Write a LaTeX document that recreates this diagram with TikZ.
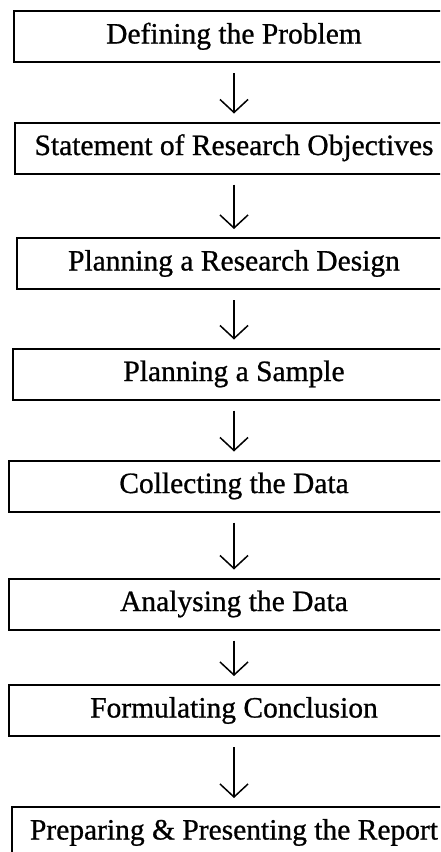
\documentclass[tikz,border=0pt]{standalone}
\usepackage{fontspec}
\setmainfont[BoldFont=Liberation Serif, BoldFeatures={FakeBold=0.8}]{Liberation Serif}
\usetikzlibrary{arrows.meta}
\begin{document}
\begin{tikzpicture}[x=1pt,y=-1pt,
  stepbox/.style={draw, line width=2pt, rectangle, minimum height=51pt, inner sep=0pt,
    font=\fontsize{29.5}{32}\selectfont\bfseries, text height=20pt, text depth=6pt},
  flow/.style={line width=1.5pt, -{Straight Barb[length=13pt,width=28pt,line width=1.5pt]},
    shorten <=10pt, shorten >=8pt}]
\useasboundingbox (0,0) rectangle (440,852);
\fill[white] (0,0) rectangle (440,852);
\clip (0,0) rectangle (440,852);
\node[stepbox, minimum width=440pt] (b1) at (234,36.5) {Defining the Problem};
\node[stepbox, minimum width=438pt] (b2) at (234,148) {Statement of Research Objectives};
\node[stepbox, minimum width=434pt] (b3) at (234,263.5) {Planning a Research Design};
\node[stepbox, minimum width=442pt] (b4) at (234,374) {Planning a Sample};
\node[stepbox, minimum width=450pt] (b5) at (234,486) {Collecting the Data};
\node[stepbox, minimum width=450pt] (b6) at (234,604) {Analysing the Data};
\node[stepbox, minimum width=450pt] (b7) at (234,710.5) {Formulating Conclusion};
\node[stepbox, minimum width=444pt] (b8) at (234,832.5) {Preparing \& Presenting the Report};
\draw[flow] (b1) -- (b2);
\draw[flow] (b2) -- (b3);
\draw[flow] (b3) -- (b4);
\draw[flow] (b4) -- (b5);
\draw[flow] (b5) -- (b6);
\draw[flow] (b6) -- (b7);
\draw[flow] (b7) -- (b8);
\end{tikzpicture}
\end{document}
